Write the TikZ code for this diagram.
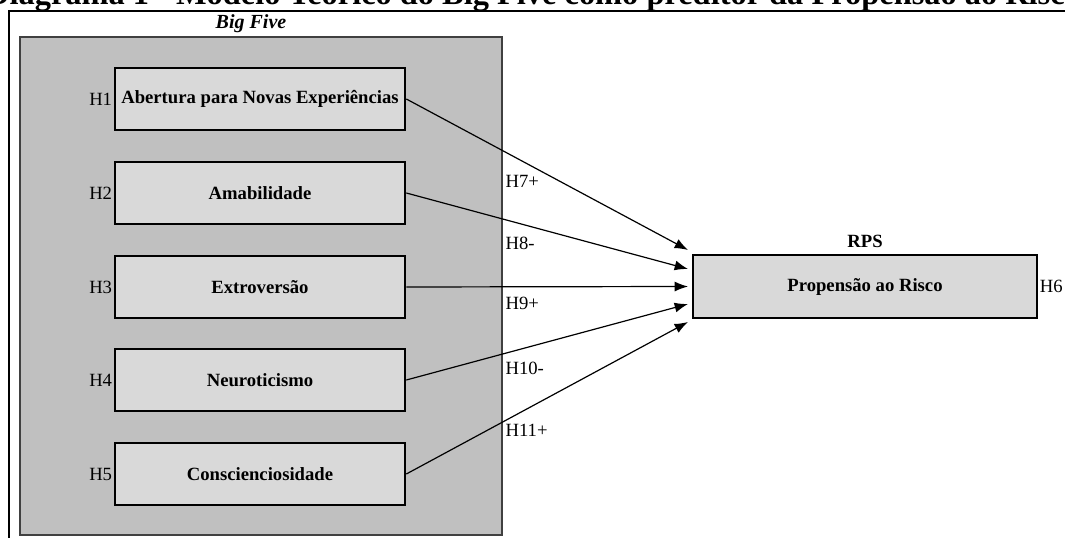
\documentclass[tikz,border=0pt]{standalone}
\usepackage{fontspec}
\setmainfont{Liberation Serif}
\usepackage{tikz}
\usetikzlibrary{arrows.meta}

\definecolor{bfgray}{RGB}{192,192,192}
\definecolor{boxgray}{RGB}{217,217,217}

\begin{document}
\begin{tikzpicture}[x=0.75pt, y=-0.75pt,
        trait/.style = {draw, line width=2pt, fill=boxgray, font=\fontsize{14}{16}\selectfont\bfseries,
                minimum width=217.5pt, minimum height=46.5pt, inner sep=0pt},
        hyp/.style = {font=\fontsize{14}{16}\selectfont, inner sep=1pt},
        link/.style = {line width=0.9pt, -{Latex[length=10pt, width=7.5pt]}}]
        \useasboundingbox (0, 0) rectangle (1065, 538);
        \begin{scope}
                \clip (0, 0) rectangle (1065, 538);
                \node[anchor=base west, font=\fontsize{24.3}{28}\selectfont\bfseries, inner sep=0pt] at (-14, 5) (title)
                        {Diagrama 1 - Modelo Teórico do Big Five como preditor da Propensão ao Risco};
                \draw[line width=1.3pt] (9, 538) -- (9, 11) -- (1065, 11);
        \end{scope}

        % Big Five block
        \draw[fill=bfgray, draw=black!75, line width=0.8pt] (20, 37) rectangle (502, 535);
        \node[anchor=base, font=\fontsize{15}{17}\selectfont\bfseries\itshape] at (251, 29) (bigfive) {Big Five};

        \node[trait] at (260, 99) (abert) {Abertura para Novas Experiências};
        \node[trait] at (260, 193) (amab) {Amabilidade};
        \node[trait] at (260, 287) (extro) {Extroversão};
        \node[trait] at (260, 380) (neuro) {Neuroticismo};
        \node[trait] at (260, 474) (consc) {Conscienciosidade};

        \node[hyp, anchor=east] at (abert.west) (h1) {H1};
        \node[hyp, anchor=east] at (amab.west) (h2) {H2};
        \node[hyp, anchor=east] at (extro.west) (h3) {H3};
        \node[hyp, anchor=east] at (neuro.west) (h4) {H4};
        \node[hyp, anchor=east] at (consc.west) (h5) {H5};

        % RPS block
        \node[trait, minimum width=258pt, minimum height=47.25pt] at (865, 286.5) (risco) {Propensão ao Risco};
        \node[anchor=base, font=\fontsize{14}{16}\selectfont\bfseries] at (865, 248) (rps) {RPS};
        \node[hyp, anchor=west] at (risco.east) (h6) {H6};

        \coordinate (e1) at (688, 250);
        \coordinate (e2) at (688, 269);
        \coordinate (e3) at (688, 286.5);
        \coordinate (e4) at (688, 304);
        \coordinate (e5) at (688, 322);

        \draw [link] (abert.east) -- (e1);
        \draw [link] (amab.east) -- (e2);
        \draw [link] (extro.east) -- (e3);
        \draw [link] (neuro.east) -- (e4);
        \draw [link] (consc.east) -- (e5);

        \node[hyp, anchor=west] at (504, 181) (h7) {H7+};
        \node[hyp, anchor=west] at (504, 243) (h8) {H8-};
        \node[hyp, anchor=west] at (504, 303) (h9) {H9+};
        \node[hyp, anchor=west] at (504, 368) (h10) {H10-};
        \node[hyp, anchor=west] at (504, 430) (h11) {H11+};
\end{tikzpicture}
\end{document}
